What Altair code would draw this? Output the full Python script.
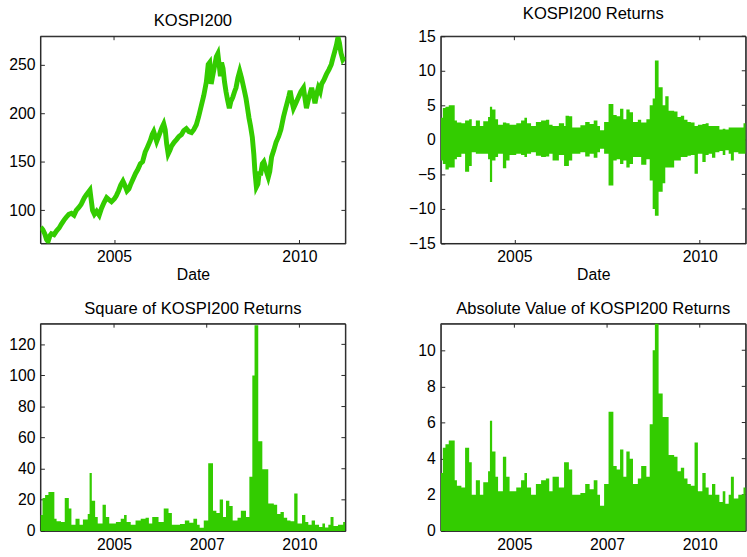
import altair as alt
import pandas as pd

# ---------------- data ----------------
# KOSPI200 index level (decimal year, level)
kospi_t = [2003.02, 2003.08, 2003.13, 2003.18, 2003.22, 2003.27, 2003.31, 2003.38, 2003.45, 2003.52,
           2003.58, 2003.65, 2003.71, 2003.78, 2003.85, 2003.92, 2003.98, 2004.05, 2004.11, 2004.16,
           2004.20, 2004.25, 2004.29, 2004.35, 2004.38, 2004.42, 2004.47, 2004.53, 2004.60, 2004.66,
           2004.73, 2004.80, 2004.86, 2004.93, 2005.01, 2005.06, 2005.12, 2005.18, 2005.24, 2005.30,
           2005.35, 2005.40, 2005.44, 2005.51, 2005.58, 2005.64, 2005.71, 2005.77, 2005.84, 2005.90,
           2005.98, 2006.03, 2006.07, 2006.11, 2006.15, 2006.22, 2006.29, 2006.34, 2006.38, 2006.42,
           2006.46, 2006.51, 2006.55, 2006.62, 2006.69, 2006.75, 2006.82, 2006.88, 2006.95, 2007.02,
           2007.09, 2007.15, 2007.22, 2007.28, 2007.35, 2007.42, 2007.49, 2007.54, 2007.58, 2007.62,
           2007.66, 2007.71, 2007.76, 2007.80, 2007.84, 2007.87, 2007.90, 2007.94, 2007.98, 2008.02,
           2008.06, 2008.11, 2008.15, 2008.20, 2008.25, 2008.29, 2008.34, 2008.39, 2008.44, 2008.51,
           2008.56, 2008.60, 2008.64, 2008.68, 2008.73, 2008.77, 2008.80, 2008.84, 2008.88, 2008.92,
           2008.95, 2009.00, 2009.04, 2009.08, 2009.11, 2009.16, 2009.20, 2009.25, 2009.31, 2009.37,
           2009.44, 2009.50, 2009.57, 2009.63, 2009.68, 2009.72, 2009.75, 2009.80, 2009.84, 2009.90,
           2009.97, 2010.04, 2010.11, 2010.15, 2010.19, 2010.25, 2010.33, 2010.38, 2010.42, 2010.47,
           2010.51, 2010.56, 2010.60, 2010.66, 2010.73, 2010.80, 2010.86, 2010.90, 2010.95, 2011.00,
           2011.04, 2011.08, 2011.12, 2011.17, 2011.23]
kospi_v = [83, 80, 76, 70, 68, 74, 76, 75, 79, 82,
           86, 90, 93, 96, 97, 95, 100, 103, 106, 110,
           113, 116, 118, 121, 112, 100, 96, 99, 95, 102,
           108, 113, 111, 109, 112, 115, 120, 126, 130, 125,
           120, 122, 126, 132, 138, 142, 148, 150, 160, 165,
           172, 178, 181, 176, 171, 178, 185, 189, 183, 168,
           158, 162, 166, 170, 173, 176, 178, 182, 184, 181,
           180, 183, 188, 196, 207, 218, 232, 250, 252, 230,
           238, 248, 258, 261, 248, 238, 252, 246, 232, 222,
           214, 205, 212, 216, 222, 226, 236, 243, 236, 224,
           215, 205, 195, 187, 175, 158, 140, 124, 127, 140,
           136, 148, 150, 145, 140, 134, 140, 155, 162, 170,
           176, 183, 196, 205, 212, 218, 223, 212, 205, 210,
           216, 222, 226, 215, 205, 215, 226, 218, 210, 220,
           226, 222, 230, 234, 240, 245, 250, 256, 263, 270,
           278, 272, 262, 255, 258]

# Returns (%): start of each stretch (decimal year), highest and lowest return in it
ret_t = [2003.015, 2003.07, 2003.14, 2003.23, 2003.39, 2003.45, 2003.57, 2003.67, 2003.78, 2003.85,
         2003.96, 2004.07, 2004.16, 2004.29, 2004.34, 2004.40, 2004.49, 2004.56, 2004.69, 2004.78,
         2004.87, 2005.05, 2005.18, 2005.27, 2005.34, 2005.45, 2005.58, 2005.72, 2005.85, 2005.94,
         2006.03, 2006.20, 2006.34, 2006.38, 2006.47, 2006.56, 2006.78, 2006.91, 2007.03, 2007.14,
         2007.24, 2007.31, 2007.42, 2007.54, 2007.67, 2007.76, 2007.85, 2007.94, 2008.02, 2008.11,
         2008.20, 2008.33, 2008.42, 2008.56, 2008.65, 2008.73, 2008.79, 2008.89, 2009.00, 2009.07,
         2009.16, 2009.31, 2009.40, 2009.49, 2009.58, 2009.67, 2009.76, 2009.86, 2009.95, 2010.07,
         2010.16, 2010.24, 2010.33, 2010.42, 2010.53, 2010.62, 2010.69, 2010.78, 2010.84, 2010.92,
         2011.04, 2011.18, 2011.24]
ret_up = [3.2, 4.6, 4.8, 5.0, 2.8, 2.5, 2.4, 2.8, 3.0, 2.0,
          2.8, 2.0, 2.7, 3.3, 4.8, 4.4, 3.0, 2.2, 2.5, 2.4,
          2.2, 2.4, 2.8, 3.2, 2.4, 2.0, 2.6, 2.8, 2.9, 2.2,
          2.0, 2.4, 2.0, 3.5, 3.4, 1.8, 2.1, 2.6, 2.3, 2.8,
          2.0, 1.4, 2.6, 5.2, 3.6, 3.4, 4.5, 3.0, 4.4, 4.0,
          2.6, 2.9, 2.5, 3.0, 5.0, 6.0, 11.5, 7.6, 5.0, 6.3,
          4.2, 4.1, 3.3, 3.5, 2.9, 2.6, 2.5, 2.0, 2.2, 2.3,
          2.4, 2.0, 2.0, 2.0, 1.5, 1.6, 1.5, 1.8, 1.8, 1.8,
          1.8, 2.4, 2.4]
ret_lo = [-3.0, -3.5, -4.3, -4.0, -2.8, -2.5, -2.0, -4.6, -3.8, -1.8,
          -2.0, -2.0, -2.0, -2.8, -6.1, -3.0, -2.5, -2.0, -4.1, -3.0,
          -2.2, -2.0, -2.2, -2.5, -2.0, -1.8, -2.3, -2.5, -2.4, -2.0,
          -3.0, -2.2, -3.8, -3.8, -3.0, -2.0, -1.8, -2.4, -2.0, -2.6,
          -1.8, -1.3, -2.0, -6.6, -3.0, -2.8, -3.5, -3.0, -4.0, -3.5,
          -2.5, -2.5, -3.6, -2.8, -5.9, -10.0, -11.0, -7.5, -6.3, -4.0,
          -4.0, -3.0, -3.0, -2.5, -2.5, -2.3, -2.2, -4.9, -2.0, -3.2,
          -2.2, -2.0, -2.6, -1.8, -1.6, -2.2, -1.5, -2.0, -3.0, -1.8,
          -2.0, -2.0, -2.0]

x_domain = [2003.015, 2011.24]
top_ticks = [2005, 2010]
bottom_ticks = [2005, 2007.5, 2010]

titles = ["KOSPI200", "KOSPI200 Returns", "Square of KOSPI200 Returns",
          "Absolute Value of KOSPI200 Returns"]

# ---------------- styling ----------------
FONT = "Liberation Sans"
GREEN = "#33cc00"
INK = "#262626"
FS = 16
TFS = 16.8
W, H = 309, 210

kospi = pd.DataFrame({"t": kospi_t, "v": kospi_v})
rets = pd.DataFrame({"t": ret_t, "up": ret_up, "lo": ret_lo})
box = pd.DataFrame({"b": [0]})


def x_enc(field, ticks, title):
    ax = alt.Axis(orient="bottom", values=ticks, labelExpr="toString(floor(datum.value))",
                  offset=-4, tickSize=4, domain=False, grid=False, labelPadding=5.5,
                  labelFont=FONT, labelFontSize=FS, labelColor="black", labelFlush=False,
                  tickColor=INK, title=title, titleFont=FONT, titleFontSize=FS,
                  titleFontWeight="normal", titleColor="black", titleBaseline="alphabetic",
                  titleY=40.5)
    return alt.X(field, scale=alt.Scale(domain=x_domain, nice=False, zero=False), axis=ax)


def y_enc(field, domain, ticks):
    ax = alt.Axis(orient="left", values=ticks, offset=-4, tickSize=4, domain=False,
                  grid=False, labelPadding=5.5, labelFont=FONT, labelFontSize=FS,
                  labelColor="black", tickColor=INK, title=None)
    return alt.Y(field, scale=alt.Scale(domain=domain, nice=False, zero=False), axis=ax)


def ttl(text):
    return alt.TitleParams(text=text, font=FONT, fontSize=TFS, fontWeight="normal",
                           color="black", anchor="middle", baseline="alphabetic",
                           frame="group", offset=11, dy=18)


def panel(main, xticks, xtitle, ydomain, yticks, title):
    # axes box plus the inward tick marks along the top and right edges
    frame = alt.Chart(box).mark_rect(filled=False, color=INK, strokeWidth=1).encode(
        x=alt.value(0), x2=alt.value(W), y=alt.value(0), y2=alt.value(H))
    top = alt.Chart(pd.DataFrame({"t": xticks})).mark_rule(color=INK, strokeWidth=1).encode(
        x=x_enc("t:Q", xticks, xtitle), y=alt.value(0), y2=alt.value(4))
    right = alt.Chart(pd.DataFrame({"yt": yticks})).mark_rule(color=INK, strokeWidth=1).encode(
        y=y_enc("yt:Q", ydomain, yticks), x=alt.value(W - 4), x2=alt.value(W))
    return alt.layer(frame, top, right, main).properties(width=W, height=H, title=ttl(title))


# Panel 1: index level
y1 = [66, 279]
t1 = [100, 150, 200, 250]
p1 = panel(
    alt.Chart(kospi).mark_line(color=GREEN, strokeWidth=5, clip=True).encode(
        x=x_enc("t:Q", top_ticks, "Date"), y=y_enc("v:Q", y1, t1)),
    top_ticks, "Date", y1, t1, titles[0])

# Panel 2: returns
y2 = [-15, 15]
t2 = [-15, -10, -5, 0, 5, 10, 15]
p2 = panel(
    alt.Chart(rets).mark_area(color=GREEN, interpolate="step-after", clip=True).encode(
        x=x_enc("t:Q", top_ticks, "Date"), y=y_enc("up:Q", y2, t2), y2="lo:Q"),
    top_ticks, "Date", y2, t2, titles[1])

# Panel 3: squared returns
y3 = [0, 133.3]
t3 = [0, 20, 40, 60, 80, 100, 120]
sq = alt.Chart(rets).transform_calculate(
    absr="max(datum.up, -datum.lo)").transform_calculate(sq="datum.absr * datum.absr")
p3 = panel(
    sq.mark_area(color=GREEN, interpolate="step-after", clip=True).encode(
        x=x_enc("t:Q", bottom_ticks, None), y=y_enc("sq:Q", y3, t3), y2=alt.datum(0)),
    bottom_ticks, None, y3, t3, titles[2])

# Panel 4: absolute returns
y4 = [0, 11.47]
t4 = [0, 2, 4, 6, 8, 10]
ab = alt.Chart(rets).transform_calculate(absr="max(datum.up, -datum.lo)")
p4 = panel(
    ab.mark_area(color=GREEN, interpolate="step-after", clip=True).encode(
        x=x_enc("t:Q", bottom_ticks, None), y=y_enc("absr:Q", y4, t4), y2=alt.datum(0)),
    bottom_ticks, None, y4, t4, titles[3])

chart = alt.concat(p1, p2, p3, p4, columns=2, spacing={"row": 81.3, "column": 96.7},
                   bounds="flush").properties(
    padding={"left": 8, "top": 1, "right": 0, "bottom": 0}
).configure(background="white").configure_view(stroke=INK, strokeWidth=1)

chart.save("out.html", embed_options={"renderer": "svg", "actions": False})
